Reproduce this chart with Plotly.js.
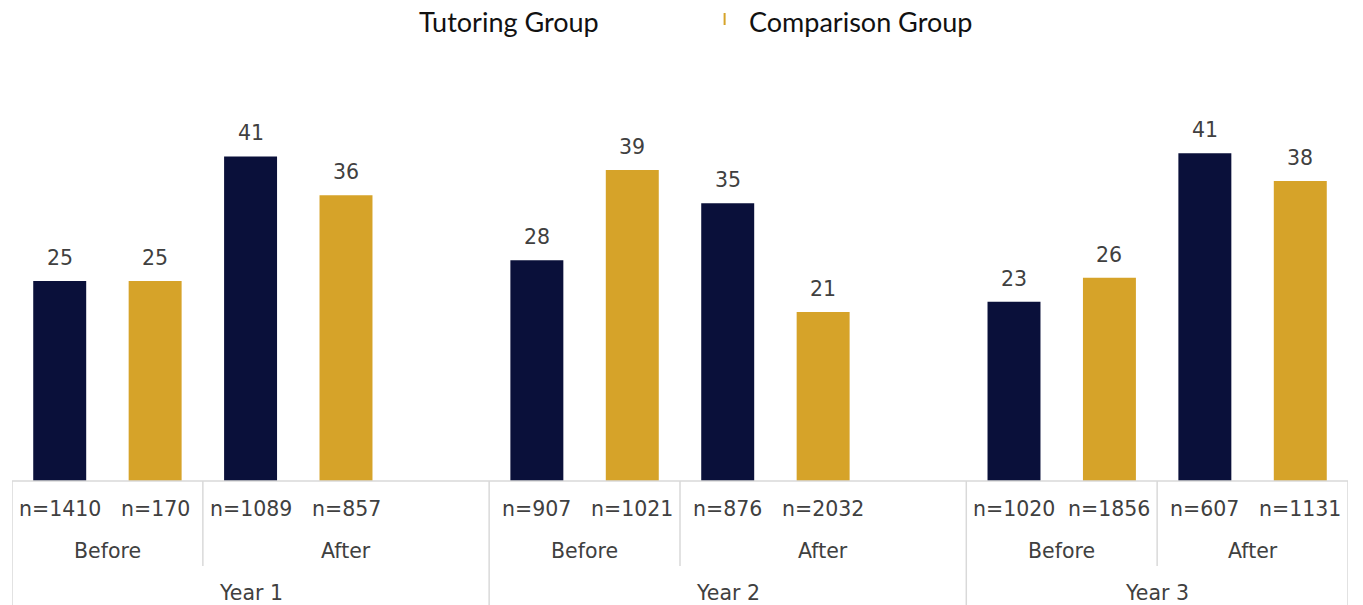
<!DOCTYPE html>
<html>
<head>
<meta charset="utf-8">
<script src="https://cdn.plot.ly/plotly-3.0.1.min.js"></script>
<style>html,body{margin:0;padding:0;background:#fff;}#chart{width:1363px;height:605px;}</style>
</head>
<body>
<div id="chart"></div>
<script>
// ---- data ----
const years = ["Year 1", "Year 2", "Year 3"];
const periods = ["Before", "After"];
const seriesNames = ["Tutoring Group", "Comparison Group"];
// order: Y1 Before, Y1 After, Y2 Before, Y2 After, Y3 Before, Y3 After
const tutoringValues = [25.2, 40.9, 27.8, 35.0, 22.6, 41.3];
const comparisonValues = [25.2, 36.0, 39.2, 21.3, 25.6, 37.8];
const tutoringN = ["n=1410", "n=1089", "n=907", "n=876", "n=1020", "n=607"];
const comparisonN = ["n=170", "n=857", "n=1021", "n=2032", "n=1856", "n=1131"];

const navy = "#0A103A";
const gold = "#D6A329";
const gridGray = "#D9D9D9";
const txt = "#404040";
const labelFont = {family: "DejaVu Sans, Verdana, sans-serif", size: 20.5, color: txt};

// ---- build slot layout (Year 1 & 2 have a trailing empty slot) ----
const tX = [], cX = [], tickVals = [], tickText = [];
const periodSpans = [], yearSpans = [];
let slot = 0;
years.forEach((yr, yi) => {
  const yStart = slot - 0.5;
  periods.forEach((p, pi) => {
    const k = yi * 2 + pi;
    const pStart = slot - 0.5;
    tX.push(slot); tickVals.push(slot); tickText.push(tutoringN[k]); slot++;
    cX.push(slot); tickVals.push(slot); tickText.push(comparisonN[k]); slot++;
    if (pi === 1 && yi < years.length - 1) slot++; // empty spacer slot
    periodSpans.push({label: p, start: pStart, end: slot - 0.5});
  });
  yearSpans.push({label: yr, start: yStart, end: slot - 0.5});
});
const xMin = -0.5, xMax = slot - 0.5;

const barWidth = 0.555;
const traces = [
  {type: "bar", name: seriesNames[0], x: tX, y: tutoringValues, width: barWidth,
   marker: {color: navy}, showlegend: false, hoverinfo: "skip"},
  {type: "bar", name: seriesNames[1], x: cX, y: comparisonValues, width: barWidth,
   marker: {color: gold}, showlegend: false, hoverinfo: "skip"}
];

const plotTop = 81, plotBottom = 481, plotH = plotBottom - plotTop;
const py = p => (plotBottom - p) / plotH; // pixel row -> paper y

const annotations = [];
// value labels (rounded, as displayed)
[[tX, tutoringValues], [cX, comparisonValues]].forEach(([xs, vs]) => {
  xs.forEach((x, i) => annotations.push({
    x: x, y: vs[i], xref: "x", yref: "y", text: String(Math.round(vs[i])), showarrow: false,
    yanchor: "bottom", yshift: 9, font: labelFont
  }));
});
// n labels
tickVals.forEach((x, i) => annotations.push({
  x: x, y: py(509), xref: "x", yref: "paper", text: tickText[i], showarrow: false,
  yanchor: "middle", font: labelFont
}));
periodSpans.forEach(s => annotations.push({
  x: (s.start + s.end) / 2, y: py(551), xref: "x", yref: "paper", text: s.label,
  showarrow: false, yanchor: "middle", font: labelFont
}));
yearSpans.forEach(s => annotations.push({
  x: (s.start + s.end) / 2, y: py(593), xref: "x", yref: "paper", text: s.label,
  showarrow: false, yanchor: "middle", font: labelFont
}));
// legend
const legendFont = {family: "Lato, Carlito, Calibri, sans-serif", size: 27, color: "#111"};
annotations.push({x: 507 / 1363, y: 1, xref: "paper", yref: "paper", yanchor: "middle",
  yshift: plotTop - 21, text: seriesNames[0], showarrow: false, font: legendFont});
annotations.push({x: 866 / 1363, y: 1, xref: "paper", yref: "paper", yanchor: "middle",
  yshift: plotTop - 21, text: seriesNames[1], showarrow: false, font: legendFont});

const shapes = [];
const line = {color: gridGray, width: 1.5};
shapes.push({type: "line", xref: "x", yref: "paper", x0: xMin, x1: xMax, y0: 0, y1: 0, line: line});
yearSpans.forEach((s, i) => {
  if (i === 0) shapes.push({type: "line", xref: "x", yref: "paper", x0: s.start, x1: s.start, y0: 0, y1: py(606), line: line});
  shapes.push({type: "line", xref: "x", yref: "paper", x0: s.end, x1: s.end, y0: 0, y1: py(606), line: line});
});
periodSpans.forEach((s, i) => {
  if (i % 2 === 0) shapes.push({type: "line", xref: "x", yref: "paper", x0: s.end, x1: s.end, y0: 0, y1: py(566), line: line});
});
// legend marker (small gold tick)
shapes.push({type: "line", xref: "paper", yref: "paper", x0: 727 / 1363, x1: 727 / 1363,
  y0: py(13), y1: py(25), line: {color: gold, width: 2}});

const layout = {
  width: 1363, height: 605,
  margin: {l: 12, r: 15, t: plotTop, b: 605 - plotBottom},
  paper_bgcolor: "#fff", plot_bgcolor: "#fff",
  barmode: "overlay",
  showlegend: false,
  xaxis: {type: "linear", range: [xMin, xMax], showticklabels: false, showgrid: false,
          zeroline: false, showline: false, ticks: ""},
  yaxis: {range: [0, 50.4], visible: false, showgrid: false, zeroline: false},
  annotations: annotations,
  shapes: shapes
};

Plotly.newPlot("chart", traces, layout, {staticPlot: true, displayModeBar: false});
</script>
</body>
</html>
